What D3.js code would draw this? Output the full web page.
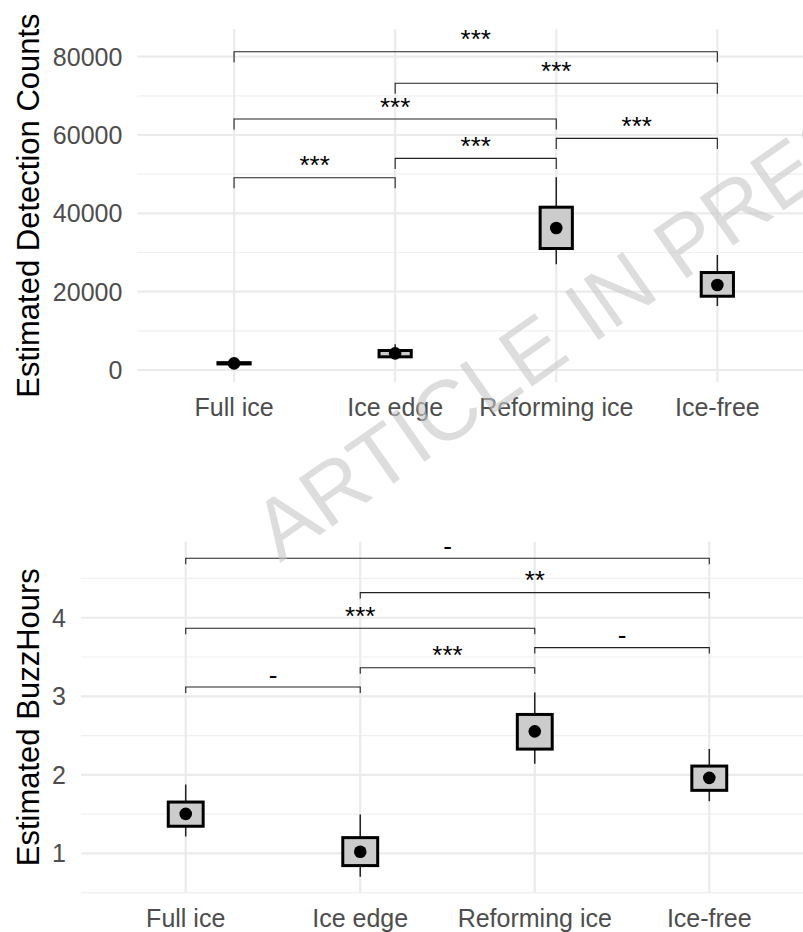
<!DOCTYPE html>
<html>
<head>
<meta charset="utf-8">
<script src="https://cdn.jsdelivr.net/npm/d3@7.9.0/dist/d3.min.js"></script>
<style>
  body { margin: 0; background: #fff; }
  svg { display: block; font-family: "Liberation Sans", Arial, sans-serif; }
</style>
</head>
<body>
<svg id="chart" width="803" height="932"></svg>
<script>
const categories = ["Full ice", "Ice edge", "Reforming ice", "Ice-free"];

// top panel: estimated detection counts
const countTicks = [0, 20000, 40000, 60000, 80000];
const countMinor = [10000, 30000, 50000, 70000];
const countEst = [1700, 4260, 36260, 21700];
const countBoxLo = [1550, 3370, 31020, 18840];
const countBoxHi = [1880, 4980, 41570, 24890];
const countWhiskLo = [1450, 2900, 26990, 16340];
const countWhiskHi = [2000, 6560, 49200, 29360];
const countPairs = [[0, 3], [1, 3], [0, 2], [2, 3], [1, 2], [0, 1]];
const countBracketY = [81270, 73200, 64090, 59140, 54030, 49100];
const countSig = ["***", "***", "***", "***", "***", "***"];

// bottom panel: estimated buzz hours
const buzzTicks = [1, 2, 3, 4];
const buzzMinor = [0.5, 1.5, 2.5, 3.5, 4.5];
const buzzEst = [1.503, 1.022, 2.554, 1.962];
const buzzBoxLo = [1.346, 0.845, 2.328, 1.803];
const buzzBoxHi = [1.654, 1.201, 2.769, 2.112];
const buzzWhiskLo = [1.215, 0.704, 2.14, 1.665];
const buzzWhiskHi = [1.877, 1.496, 3.05, 2.33];
const buzzPairs = [[0, 3], [1, 3], [0, 2], [2, 3], [1, 2], [0, 1]];
const buzzBracketY = [4.757, 4.32, 3.867, 3.62, 3.363, 3.118];
const buzzSig = ["-", "**", "***", "-", "***", "-"];

const svg = d3.select("#chart");

function drawPanel(opt) {
  const g = svg.append("g");
  const x = d3.scalePoint().domain(categories).range([opt.left, 814]).padding(0.6);
  const y = d3.scaleLinear().domain(opt.domain).range([opt.bottom, opt.top]);
  const boxW = x.step() * 0.2;

  // grid
  g.selectAll(".minor").data(opt.minor).join("line")
    .attr("x1", opt.left).attr("x2", 803)
    .attr("y1", d => y(d)).attr("y2", d => y(d))
    .attr("stroke", "#f0f0f0").attr("stroke-width", 1.2);
  g.selectAll(".major").data(opt.ticks).join("line")
    .attr("x1", opt.left).attr("x2", 803)
    .attr("y1", d => y(d)).attr("y2", d => y(d))
    .attr("stroke", "#ebebeb").attr("stroke-width", 2.2);
  g.selectAll(".vgrid").data(categories).join("line")
    .attr("x1", d => x(d)).attr("x2", d => x(d))
    .attr("y1", opt.top).attr("y2", opt.bottom)
    .attr("stroke", "#ebebeb").attr("stroke-width", 2.2);

  // y tick labels
  g.selectAll(".ytick").data(opt.ticks).join("text")
    .attr("x", opt.left - 15).attr("y", d => y(d)).attr("dy", "0.36em")
    .attr("text-anchor", "end").attr("font-size", 25).attr("fill", "#4d4d4d")
    .text(d => d);

  // x tick labels
  g.selectAll(".xtick").data(categories).join("text")
    .attr("x", d => x(d)).attr("y", opt.bottom + 34)
    .attr("text-anchor", "middle").attr("font-size", 25).attr("fill", "#4d4d4d")
    .text(d => d);

  // y title
  g.append("text")
    .attr("transform", `translate(38.5,${(opt.top + opt.bottom) / 2}) rotate(-90)`)
    .attr("text-anchor", "middle").attr("font-size", 31).attr("fill", "#000")
    .text(opt.title);

  // whiskers
  g.selectAll(".whisk").data(categories).join("line")
    .attr("x1", d => x(d)).attr("x2", d => x(d))
    .attr("y1", (d, i) => y(opt.whiskLo[i])).attr("y2", (d, i) => y(opt.whiskHi[i]))
    .attr("stroke", "#222").attr("stroke-width", 1.5);

  // boxes
  g.selectAll(".box").data(categories).join("rect")
    .attr("x", d => x(d) - boxW / 2).attr("width", boxW)
    .attr("y", (d, i) => y(opt.boxHi[i]))
    .attr("height", (d, i) => y(opt.boxLo[i]) - y(opt.boxHi[i]))
    .attr("fill", "#cccccc").attr("stroke", "#000").attr("stroke-width", 3);

  // estimates
  g.selectAll(".est").data(categories).join("circle")
    .attr("cx", d => x(d)).attr("cy", (d, i) => y(opt.est[i])).attr("r", 6.3)
    .attr("fill", "#000");

  // significance brackets
  opt.pairs.forEach((p, i) => {
    const x1 = x(categories[p[0]]), x2 = x(categories[p[1]]);
    const yb = y(opt.bracketY[i]), yt = y(opt.bracketY[i] - opt.tip);
    g.append("path")
      .attr("d", `M${x1},${yt}V${yb}H${x2}V${yt}`)
      .attr("fill", "none").attr("stroke", "#222").attr("stroke-width", 1.1);
    g.append("text")
      .attr("x", (x1 + x2) / 2).attr("y", yb - 3.5)
      .attr("text-anchor", "middle").attr("font-size", 26).attr("fill", "#000")
      .text(opt.sig[i]);
  });
}

drawPanel({
  left: 137.4, top: 29, bottom: 382, domain: [-3060, 87070],
  ticks: countTicks, minor: countMinor,
  est: countEst, boxLo: countBoxLo, boxHi: countBoxHi,
  whiskLo: countWhiskLo, whiskHi: countWhiskHi,
  pairs: countPairs, bracketY: countBracketY, sig: countSig, tip: 2680,
  title: "Estimated Detection Counts"
});

drawPanel({
  left: 81, top: 541.7, bottom: 892.7, domain: [0.5, 4.968],
  ticks: buzzTicks, minor: buzzMinor,
  est: buzzEst, boxLo: buzzBoxLo, boxHi: buzzBoxHi,
  whiskLo: buzzWhiskLo, whiskHi: buzzWhiskHi,
  pairs: buzzPairs, bracketY: buzzBracketY, sig: buzzSig, tip: 0.076,
  title: "Estimated BuzzHours"
});

// watermark over the figure
svg.append("text")
  .attr("transform", "translate(280,563) rotate(-35)")
  .attr("font-size", 85).attr("fill", "#c8c8c8").attr("opacity", 0.6)
  .text("ARTICLE IN PRESS");
</script>
</body>
</html>
